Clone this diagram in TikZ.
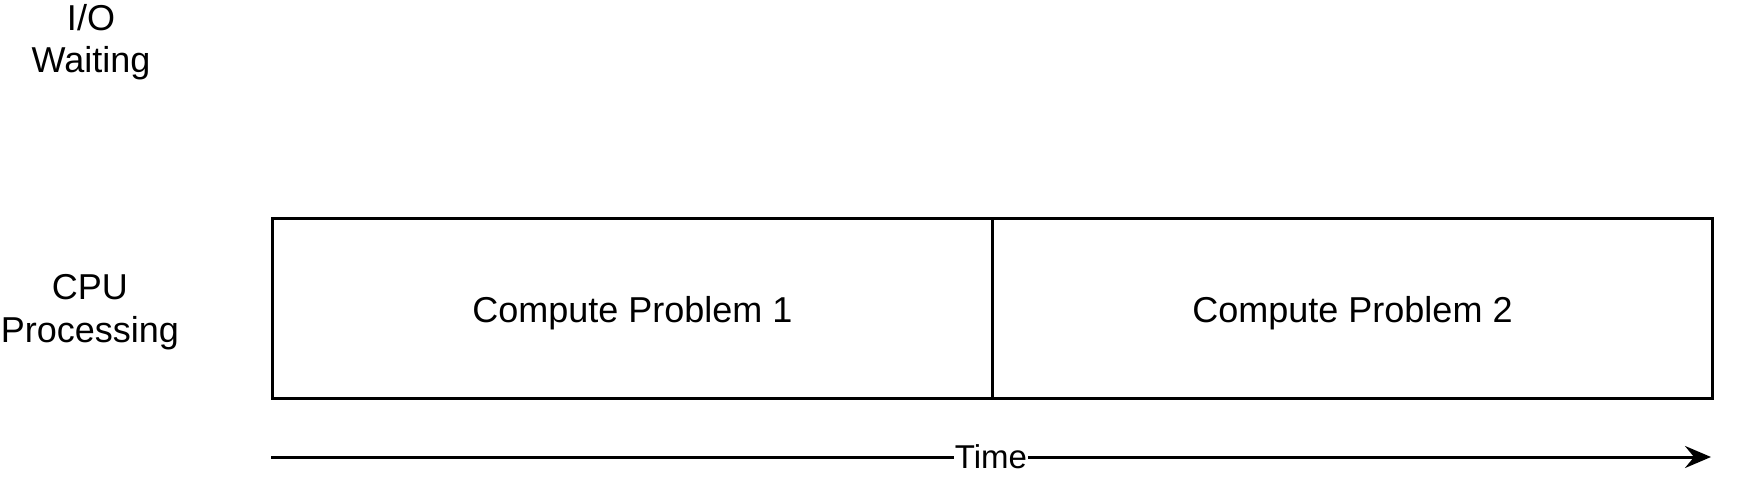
\documentclass[tikz,border=0pt]{standalone}
\usepackage{fontspec}
\setmainfont{Liberation Sans}
\usetikzlibrary{arrows.meta}
\begin{document}
\begin{tikzpicture}[x=1pt,y=-1pt,
  lbl/.style={font=\fontsize{36}{42.5}\selectfont, align=center, inner sep=0pt},
  task/.style={draw, line width=3pt, minimum width=720pt, minimum height=180pt, anchor=north west, inner sep=0pt, text height=30pt, text depth=2pt, font=\fontsize{36}{42.5}\selectfont},
  timeline/.style={line width=3pt, -{Stealth[length=26pt,width=22pt,inset=9pt]}}]
\useasboundingbox (0,0) rectangle (1737,486);
\node[lbl] (io) at (91,42) {I/O\\Waiting};
\node[lbl] (cpu) at (90,312) {CPU\\Processing};
\node[task] (cp1) at (271,217) {Compute Problem 1};
\node[task] (cp2) at (991,217) {Compute Problem 2};
\coordinate (t0) at (271,457);
\coordinate (t1) at (1711,457);
\draw[timeline] (t0) -- node[fill=white, inner sep=1pt, font=\fontsize{33}{38}\selectfont] (time) {Time} (t1);
\end{tikzpicture}
\end{document}
